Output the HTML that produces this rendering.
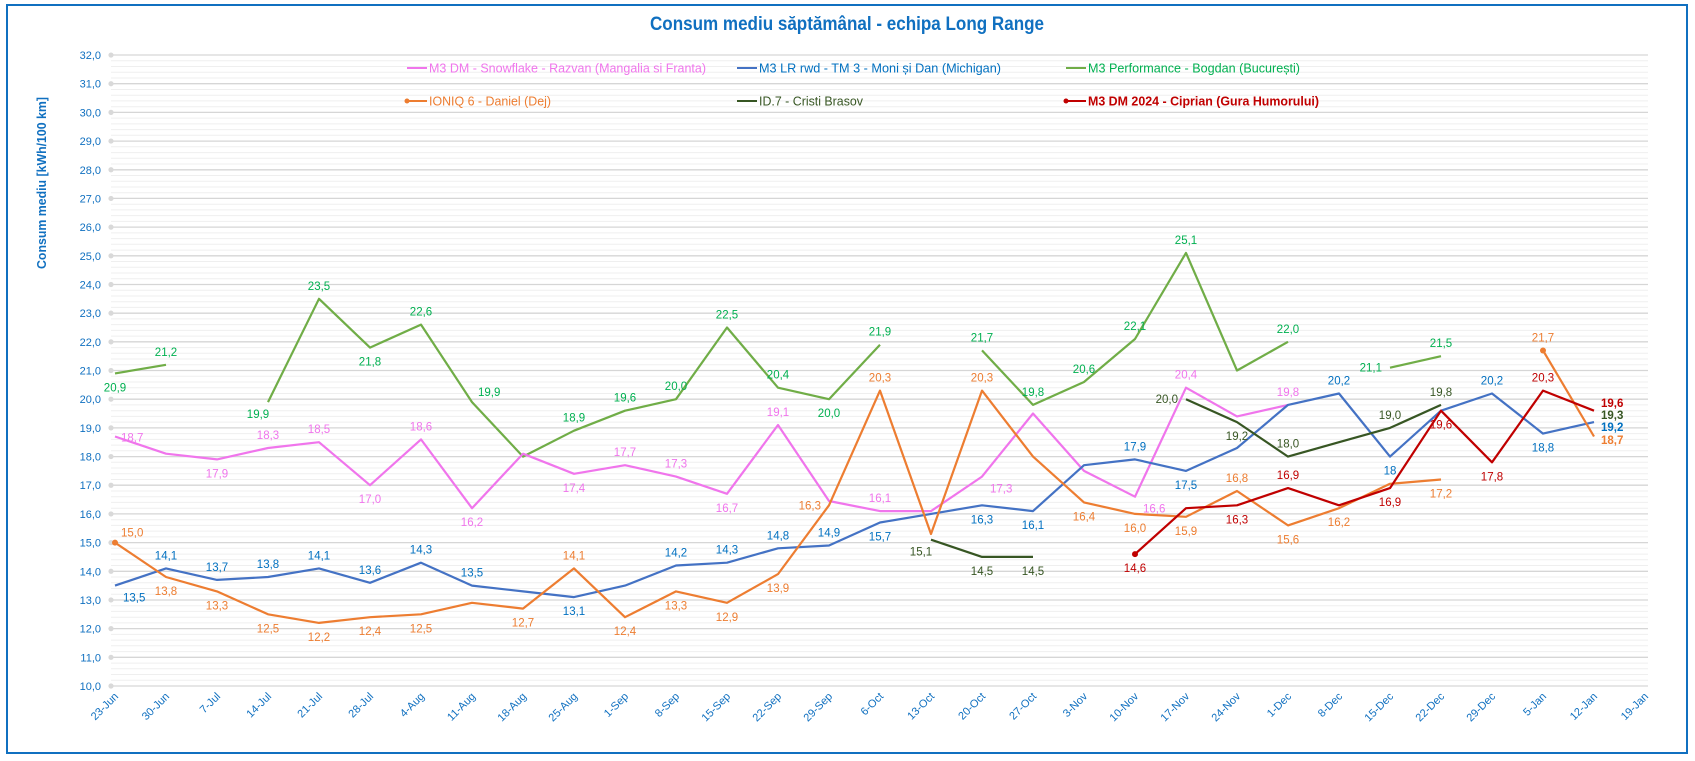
<!DOCTYPE html>
<html><head><meta charset="utf-8"><style>
html,body{margin:0;padding:0;background:#fff;}
svg{display:block;font-family:"Liberation Sans",sans-serif;}
</style></head><body>
<svg id="s" width="1695" height="761" xmlns="http://www.w3.org/2000/svg"></svg>
<script>
const S=document.getElementById('s');let h='';
const X=i=>115+51*i, Y=v=>686-(v-10)*28.68;
h+='<rect x="7" y="5" width="1680" height="748" fill="#fff" stroke="#1070c0" stroke-width="2"/>';
h+='<text x="650" y="30" textLength="394" lengthAdjust="spacingAndGlyphs" font-size="19" font-weight="bold" fill="#1070c0">Consum mediu săptămânal - echipa Long Range</text>';
h+='<text transform="translate(46,183) rotate(-90)" text-anchor="middle" font-size="12.5" font-weight="bold" fill="#1070c0" textLength="172" lengthAdjust="spacingAndGlyphs">Consum mediu [kWh/100 km]</text>';
for(let k=0;k<=110;k++){const v=10+k*0.2,y=Y(v);const maj=k%5==0;
 h+=`<line x1="111" x2="1648" y1="${y.toFixed(1)}" y2="${y.toFixed(1)}" stroke="${maj?'#d6d6d6':'#efefef'}" stroke-width="${maj?1.3:1}"/>`;
 if(maj){h+=`<circle cx="111" cy="${y}" r="2.6" fill="#d9d9d9"/><text x="101" y="${y+4}" text-anchor="end" font-size="11" fill="#1070c0">${(v).toFixed(1).replace('.',',')}</text>`;}}
const cats=['23-Jun','30-Jun','7-Jul','14-Jul','21-Jul','28-Jul','4-Aug','11-Aug','18-Aug','25-Aug','1-Sep','8-Sep','15-Sep','22-Sep','29-Sep','6-Oct','13-Oct','20-Oct','27-Oct','3-Nov','10-Nov','17-Nov','24-Nov','1-Dec','8-Dec','15-Dec','22-Dec','29-Dec','5-Jan','12-Jan','19-Jan'];
cats.forEach((c,i)=>{h+=`<text transform="translate(${X(i)+4},697) rotate(-45)" text-anchor="end" font-size="11" fill="#1070c0">${c}</text>`;});
function leg(x,y,col,tcol,txt,len,dot,bold){h+=`<line x1="${x}" x2="${x+20}" y1="${y}" y2="${y}" stroke="${col}" stroke-width="2"/>`;if(dot)h+=`<circle cx="${x}" cy="${y}" r="2.5" fill="${col}"/>`;h+=`<text x="${x+22}" y="${y+4.5}" font-size="13" fill="${tcol}" textLength="${len}" lengthAdjust="spacingAndGlyphs"${bold?' font-weight="bold"':''}>${txt}</text>`;}
function series(pts,col,w){let segs=[],cur=[];pts.forEach(p=>{if(p==null){if(cur.length)segs.push(cur);cur=[];}else cur.push(p);});if(cur.length)segs.push(cur);
 segs.forEach(s=>{h+=`<polyline fill="none" stroke="${col}" stroke-width="${w||2.2}" stroke-linejoin="round" points="${s.map(p=>X(p[0])+','+Y(p[1]).toFixed(1)).join(' ')}"/>`;});}
function labels(arr,col,bold){arr.forEach(([i,v,p])=>{let x=X(i),y=Y(v),a='middle';
 if(p=='a')y-=9;else if(p=='b')y+=18;else if(p=='r'){x+=6;y+=5;a='start';}else if(p=='rb'){x+=8;y+=16;a='start';}else if(p=='lb'){x-=10;y+=16;}else if(p=='l'){x-=8;y+=4;a='end';}else if(p=='la'){x-=8;y-=8;a='end';}else if(p=='ra'){x+=6;y-=6;a='start';}
 h+=`<text x="${x}" y="${y}" text-anchor="${a}" font-size="11.5" fill="${col}"${bold?' font-weight="bold"':''}>${v.toFixed(1).replace('.',',')}</text>`;});}
const P=a=>a.map((v,i)=>v==null?null:[i,v]);
const pink=[18.7,18.1,17.9,18.3,18.5,17.0,18.6,16.2,18.1,17.4,17.7,17.3,16.7,19.1,16.45,16.1,16.1,17.3,19.5,17.5,16.6,20.4,19.4,19.8];
const blue=[13.5,14.1,13.7,13.8,14.1,13.6,14.3,13.5,13.3,13.1,13.5,14.2,14.3,14.8,14.9,15.7,16.0,16.3,16.1,17.7,17.9,17.5,18.3,19.8,20.2,18.0,19.6,20.2,18.8,19.2];
const orange=[15.0,13.8,13.3,12.5,12.2,12.4,12.5,12.9,12.7,14.1,12.4,13.3,12.9,13.9,16.3,20.3,15.3,20.3,18.0,16.4,16.0,15.9,16.8,15.6,16.2,17.05,17.2,null,21.7,18.7];
const green=[20.9,21.2,null,19.9,23.5,21.8,22.6,19.9,18.0,18.9,19.6,20.0,22.5,20.4,20.0,21.9,null,21.7,19.8,20.6,22.1,25.1,21.0,22.0,null,21.1,21.5];
const dg=[null,null,null,null,null,null,null,null,null,null,null,null,null,null,null,null,15.1,14.5,14.5,null,null,20.0,19.2,18.0,18.5,19.0,19.8];
const red=[null,null,null,null,null,null,null,null,null,null,null,null,null,null,null,null,null,null,null,null,14.6,16.2,16.3,16.9,16.3,16.9,19.6,17.8,20.3,19.6];
series(P(green),'#70ad47');series(P(pink),'#f075ec');series(P(blue),'#4472c4');series(P(orange),'#ed7d31');series(P(dg),'#375623');series(P(red),'#c00000');
h+=`<circle cx="${X(0)}" cy="${Y(15)}" r="3" fill="#ed7d31"/><circle cx="${X(28)}" cy="${Y(21.7)}" r="3" fill="#ed7d31"/><circle cx="${X(20)}" cy="${Y(14.6)}" r="3" fill="#c00000"/>`;
labels([[0,18.7,'r'],[2,17.9,'b'],[3,18.3,'a'],[4,18.5,'a'],[5,17.0,'b'],[6,18.6,'a'],[7,16.2,'b'],[9,17.4,'b'],[10,17.7,'a'],[11,17.3,'a'],[12,16.7,'b'],[13,19.1,'a'],[15,16.1,'a'],[17,17.3,'rb'],[20,16.6,'rb'],[21,20.4,'a'],[23,19.8,'a']],'#f075ec');
labels([[0,13.5,'rb'],[1,14.1,'a'],[2,13.7,'a'],[3,13.8,'a'],[4,14.1,'a'],[5,13.6,'a'],[6,14.3,'a'],[7,13.5,'a'],[9,13.1,'b'],[11,14.2,'a'],[12,14.3,'a'],[13,14.8,'a'],[14,14.9,'a'],[15,15.7,'b'],[17,16.3,'b'],[18,16.1,'b'],[20,17.9,'a'],[21,17.5,'b'],[24,20.2,'a'],[27,20.2,'a'],[28,18.8,'b']],'#0070c0');
h+=`<text x="${X(25)}" y="${Y(18)+18}" text-anchor="middle" font-size="11.5" fill="#0070c0">18</text>`;
labels([[0,15.0,'ra'],[1,13.8,'b'],[2,13.3,'b'],[3,12.5,'b'],[4,12.2,'b'],[5,12.4,'b'],[6,12.5,'b'],[8,12.7,'b'],[9,14.1,'a'],[10,12.4,'b'],[11,13.3,'b'],[12,12.9,'b'],[13,13.9,'b'],[14,16.3,'l'],[15,20.3,'a'],[17,20.3,'a'],[19,16.4,'b'],[20,16.0,'b'],[21,15.9,'b'],[22,16.8,'a'],[23,15.6,'b'],[24,16.2,'b'],[26,17.2,'b'],[28,21.7,'a']],'#ed7d31');
labels([[0,20.9,'b'],[1,21.2,'a'],[3,19.9,'lb'],[4,23.5,'a'],[5,21.8,'b'],[6,22.6,'a'],[7,19.9,'ra'],[9,18.9,'a'],[10,19.6,'a'],[11,20.0,'a'],[12,22.5,'a'],[13,20.4,'a'],[14,20.0,'b'],[15,21.9,'a'],[17,21.7,'a'],[18,19.8,'a'],[19,20.6,'a'],[20,22.1,'a'],[21,25.1,'a'],[23,22.0,'a'],[25,21.1,'l'],[26,21.5,'a']],'#00b050');
labels([[16,15.1,'lb'],[17,14.5,'b'],[18,14.5,'b'],[21,20.0,'l'],[22,19.2,'b'],[23,18.0,'a'],[25,19.0,'a'],[26,19.8,'a']],'#375623');
labels([[20,14.6,'b'],[22,16.3,'b'],[23,16.9,'a'],[25,16.9,'b'],[26,19.6,'b'],[27,17.8,'b'],[28,20.3,'a']],'#c00000');
const rx=1601;
h+=`<text x="${rx}" y="407" font-size="11.5" font-weight="bold" fill="#c00000">19,6</text><text x="${rx}" y="419" font-size="11.5" font-weight="bold" fill="#375623">19,3</text><text x="${rx}" y="431" font-size="11.5" font-weight="bold" fill="#0070c0">19,2</text><text x="${rx}" y="444" font-size="11.5" font-weight="bold" fill="#ed7d31">18,7</text>`;
leg(407,68,'#f075ec','#f075ec','M3 DM - Snowflake - Razvan (Mangalia si Franta)',277);
leg(737,68,'#4472c4','#0070c0','M3 LR rwd - TM 3 - Moni și Dan (Michigan)',242);
leg(1066,68,'#70ad47','#00b050','M3 Performance - Bogdan (București)',212);
leg(407,101,'#ed7d31','#ed7d31','IONIQ 6 - Daniel (Dej)',122,1);
leg(737,101,'#375623','#375623','ID.7 - Cristi Brasov',104);
leg(1066,101,'#c00000','#c00000','M3 DM 2024 - Ciprian (Gura Humorului)',231,1,1);
S.innerHTML=h;
</script>
</body></html>
